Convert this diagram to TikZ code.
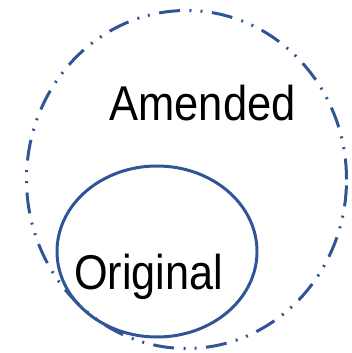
\documentclass[tikz,border=0pt]{standalone}
\usepackage{fontspec}
\setmainfont{Liberation Sans}
\usepackage{xcolor}
\usetikzlibrary{calc}
\definecolor{setBlue}{RGB}{47,85,151}

\begin{document}
\begin{tikzpicture}[x=1cm,y=1cm]
\path[use as bounding box] (0,0) rectangle (3.51,-3.53);
\draw[setBlue,line width=0.85pt,dash pattern=on 2.1mm off 0.95mm on 0.2mm off 0.9mm on 0.2mm off 0.95mm] (1.865,-1.795) ellipse [x radius=1.60,y radius=1.69];
\draw[setBlue,line width=0.85pt] (1.57,-2.515) ellipse [x radius=1.00,y radius=0.855];
\node[anchor=base,inner sep=0pt,font=\fontsize{13.9}{15}\selectfont] (amended) at (2.025,-1.21) {\scalebox{0.89}[1]{Amended}};
\node[anchor=base,inner sep=0pt,font=\fontsize{13.9}{15}\selectfont] (original) at (1.485,-2.89) {\scalebox{0.885}[1]{Original}};
\end{tikzpicture}
\end{document}
